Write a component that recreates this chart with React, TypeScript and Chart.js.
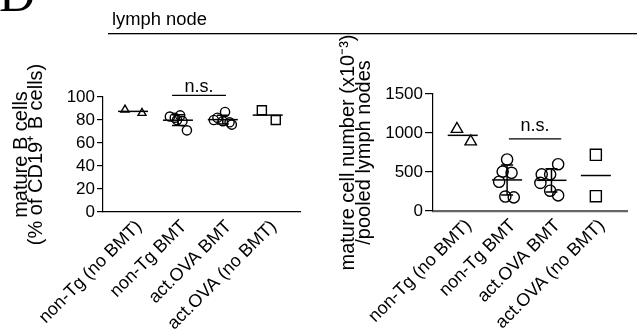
import React, { useEffect, useRef } from "react";
import { Chart, registerables } from "chart.js";

Chart.register(...registerables);

// ---------- data ----------
const categories = ["non-Tg (no BMT)", "non-Tg BMT", "act.OVA BMT", "act.OVA (no BMT)"];

// left panel: mature B cells (% of CD19+ B cells)
const pctNonTgNoBMT = [89, 86];
const pctNonTgBMT = [83, 82, 84, 79, 71, 80];
const pctActOvaBMT = [87, 82, 80, 79, 78, 76];
const pctActOvaNoBMT = [88.5, 80];
const pctTicks = [0, 20, 40, 60, 80, 100];

// right panel: mature cell number (x10^-3) / pooled lymph nodes
const numNonTgNoBMT = [1050, 890];
const numNonTgBMT = [660, 505, 490, 375, 185, 175];
const numActOvaBMT = [600, 470, 470, 360, 260, 200];
const numActOvaNoBMT = [720, 190];
const numTicks = [0, 500, 1000, 1500];

// horizontal scatter of the points inside each group (category units)
const pctJitter = [
  [-0.18, 0.2],
  [-0.18, -0.07, 0.05, 0.1, 0.2, -0.02],
  [0.05, -0.12, -0.2, 0.0, 0.15, 0.2],
  [-0.13, 0.18],
];
const numJitter = [
  [-0.13, 0.18],
  [0.0, -0.1, 0.1, -0.18, -0.04, 0.15],
  [0.15, -0.22, -0.03, -0.25, -0.03, 0.15],
  [0.0, 0.0],
];

// which groups get an SD error bar
const showSD = [false, true, true, false];
const markers = ["triangle", "circle", "circle", "rect"];

// n.s. bracket: [from category, to category, value]
const pctBracket = [0.87, 2.07, 101.5];
const numBracket = [1.04, 2.22, 925];

const panelLetter = "D";
const headerTitle = "lymph node";

const FONT = "'Liberation Sans', Arial, Helvetica, sans-serif";

function meanSd(v: number[]) {
  const m = v.reduce((a, b) => a + b, 0) / v.length;
  const s =
    v.length > 1 ? Math.sqrt(v.reduce((a, b) => a + (b - m) * (b - m), 0) / (v.length - 1)) : 0;
  return [m, s];
}

type PanelProps = {
  groups: number[][];
  jitter: number[][];
  ticks: number[];
  max: number;
  title: string[];
  bracket: number[];
  cfg: any;
};

function Panel({ groups, jitter, ticks, max, title, bracket, cfg }: PanelProps) {
  const ref = useRef<HTMLCanvasElement | null>(null);
  useEffect(() => {
    if (!ref.current) return;
    const datasets = groups.map((vals, g) => ({
      label: categories[g],
      data: vals.map((v, i) => ({ x: g + jitter[g][i], y: v })),
      showLine: false,
      pointStyle: markers[g],
      pointRadius: cfg.radius[g],
      pointBorderWidth: 1.4,
      borderColor: "#000",
      backgroundColor: "rgba(0,0,0,0)",
      pointBackgroundColor: "rgba(0,0,0,0)",
    }));

    const summaryPlugin = {
      id: "summary",
      afterDatasetsDraw(chart: any) {
        const ctx = chart.ctx;
        const xs = chart.scales.x;
        const ys = chart.scales.y;
        ctx.save();
        ctx.strokeStyle = "#000";
        ctx.lineWidth = 1.5;
        groups.forEach((vals, g) => {
          const [m, s] = meanSd(vals);
          const cx = xs.getPixelForValue(g);
          const my = ys.getPixelForValue(m);
          ctx.beginPath();
          ctx.moveTo(cx - 15, my);
          ctx.lineTo(cx + 15, my);
          ctx.stroke();
          if (showSD[g]) {
            const t = ys.getPixelForValue(m + s);
            const b = ys.getPixelForValue(m - s);
            ctx.beginPath();
            ctx.moveTo(cx, t);
            ctx.lineTo(cx, b);
            ctx.moveTo(cx - 6, t);
            ctx.lineTo(cx + 6, t);
            ctx.moveTo(cx - 6, b);
            ctx.lineTo(cx + 6, b);
            ctx.stroke();
          }
        });
        // n.s. bracket
        const x1 = xs.getPixelForValue(bracket[0]);
        const x2 = xs.getPixelForValue(bracket[1]);
        const by = ys.getPixelForValue(bracket[2]);
        ctx.lineWidth = 1.3;
        ctx.beginPath();
        ctx.moveTo(x1, by);
        ctx.lineTo(x2, by);
        ctx.stroke();
        ctx.fillStyle = "#000";
        ctx.font = `18px ${FONT}`;
        ctx.textAlign = "center";
        ctx.textBaseline = "alphabetic";
        ctx.fillText("n.s.", (x1 + x2) / 2, by - cfg.nsGap);
        ctx.restore();
      },
    };

    const chart = new Chart(ref.current, {
      type: "scatter",
      data: { datasets },
      plugins: [summaryPlugin],
      options: {
        animation: false,
        responsive: false,
        events: [],
        layout: { padding: { left: 0, right: cfg.padRight, top: cfg.padTop, bottom: 0 } },
        plugins: { legend: { display: false }, tooltip: { enabled: false } },
        scales: {
          x: {
            type: "linear",
            min: -0.67,
            max: 3.72,
            afterBuildTicks: (s: any) => {
              s.ticks = categories.map((_, i) => ({ value: i }));
            },
            afterFit: (s: any) => {
              s.height = cfg.xHeight;
            },
            grid: { display: false, drawTicks: false },
            border: { display: true, color: cfg.xColor, width: cfg.xWidth },
            ticks: {
              autoSkip: false,
              minRotation: 45,
              maxRotation: 45,
              padding: 4,
              labelOffset: 6,
              color: "#000",
              font: { family: FONT, size: 18 },
              callback: (v: any) => categories[Math.round(Number(v))] ?? "",
            },
          },
          y: {
            type: "linear",
            min: 0,
            max,
            afterBuildTicks: (s: any) => {
              s.ticks = ticks.map((v) => ({ value: v }));
            },
            afterFit: (s: any) => {
              s.width = cfg.yWidth;
            },
            grid: {
              display: true,
              drawOnChartArea: false,
              drawTicks: true,
              tickLength: cfg.tickLen,
              color: "#000",
              lineWidth: 1.2,
            },
            border: { display: true, color: "#000", width: 1.2 },
            ticks: {
              autoSkip: false,
              padding: 2,
              color: "#000",
              font: { family: FONT, size: 17 },
              callback: (v: any) => String(v),
            },
            title: {
              display: true,
              text: title,
              color: "#000",
              font: { family: FONT, size: 20, lineHeight: cfg.titleLH },
              padding: { top: cfg.titlePad, bottom: 0 },
            },
          },
        },
      },
    } as any);
    return () => chart.destroy();
  }, []);
  return (
    <canvas
      ref={ref}
      width={cfg.w}
      height={332}
      style={{ position: "absolute", left: cfg.left, top: 0, width: cfg.w, height: 332 }}
    />
  );
}

function Header() {
  const ref = useRef<HTMLCanvasElement | null>(null);
  useEffect(() => {
    const c = ref.current;
    if (!c) return;
    const ctx = c.getContext("2d");
    if (!ctx) return;
    ctx.clearRect(0, 0, c.width, c.height);
    ctx.fillStyle = "#000";
    ctx.textBaseline = "alphabetic";
    ctx.textAlign = "left";
    ctx.font = "50px 'Liberation Serif', 'Times New Roman', serif";
    ctx.fillText(panelLetter, -1, 11);
    ctx.font = `18px ${FONT}`;
    const w = ctx.measureText(headerTitle).width;
    ctx.save();
    ctx.translate(112, 25);
    ctx.scale(95 / w, 1);
    ctx.fillText(headerTitle, 0, 0);
    ctx.restore();
    ctx.fillRect(108, 33, 540, 1.3);
  }, []);
  return (
    <canvas
      ref={ref}
      width={637}
      height={40}
      style={{ position: "absolute", left: 0, top: 0, width: 637, height: 40 }}
    />
  );
}

export default function App() {
  const leftCfg = {
    left: 0,
    w: 318,
    padRight: 18,
    padTop: 97,
    xHeight: 120,
    yWidth: 103,
    tickLen: 6,
    xColor: "#000",
    xWidth: 1.3,
    radius: [4.6, 4.6, 4.6, 6.4],
    titleLH: 15 / 20,
    titlePad: 13.5,
    nsGap: 3,
  };
  const rightCfg = {
    left: 318,
    w: 319,
    padRight: 7,
    padTop: 94,
    xHeight: 121,
    yWidth: 115,
    tickLen: 8,
    xColor: "#666",
    xWidth: 2.2,
    radius: [6.6, 5.6, 5.6, 7.8],
    titleLH: 16 / 20,
    titlePad: 22,
    nsGap: 8,
  };
  return (
    <div
      style={{
        position: "absolute",
        left: 0,
        top: 0,
        width: 637,
        height: 332,
        overflow: "hidden",
        background: "#fff",
      }}
    >
      <Header />
      <Panel
        groups={[pctNonTgNoBMT, pctNonTgBMT, pctActOvaBMT, pctActOvaNoBMT]}
        jitter={pctJitter}
        ticks={pctTicks}
        max={100}
        title={["mature B cells", "(% of CD19\u207A B cells)"]}
        bracket={pctBracket}
        cfg={leftCfg}
      />
      <Panel
        groups={[numNonTgNoBMT, numNonTgBMT, numActOvaBMT, numActOvaNoBMT]}
        jitter={numJitter}
        ticks={numTicks}
        max={1500}
        title={["mature cell number (x10\u207B\u00B3)", "/pooled lymph nodes"]}
        bracket={numBracket}
        cfg={rightCfg}
      />
    </div>
  );
}
